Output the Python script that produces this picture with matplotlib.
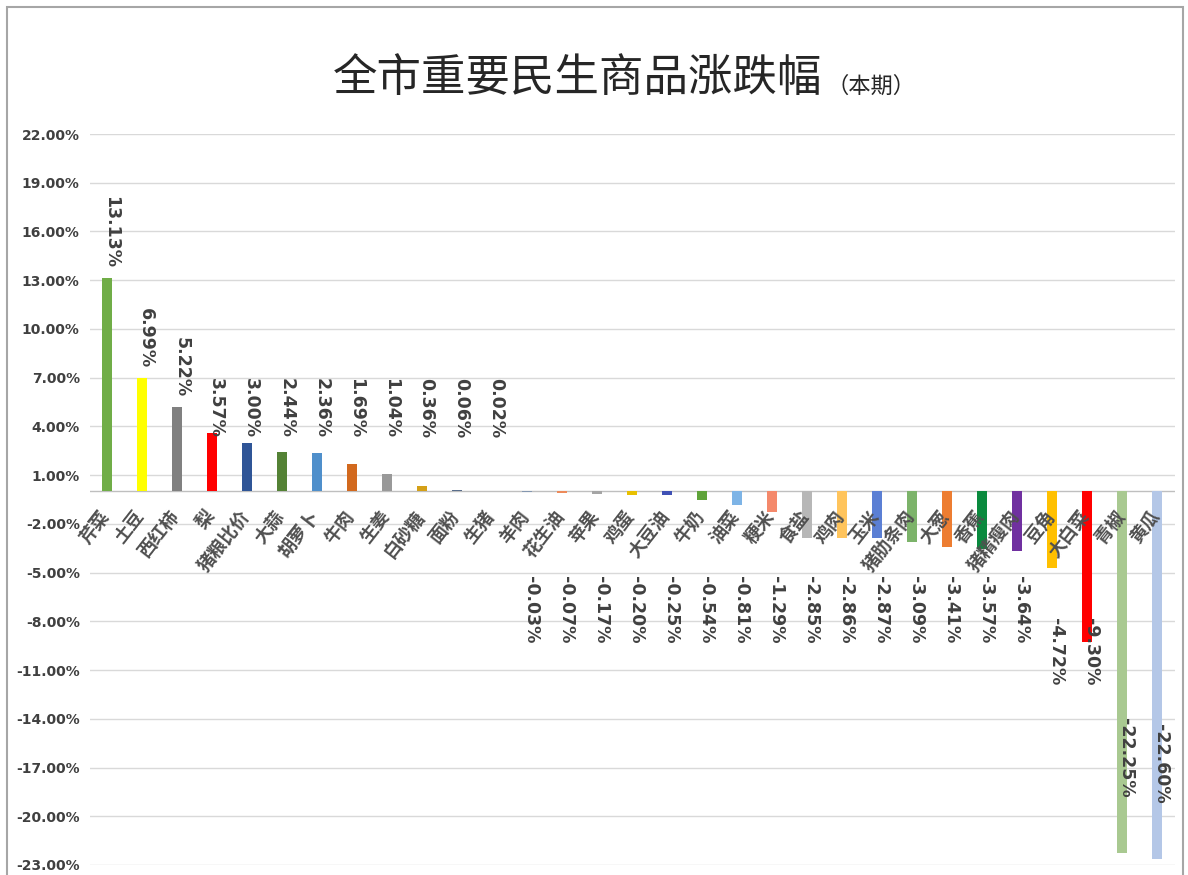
"""Recreate the '全市重要民生商品涨跌幅（本期）' bar chart."""
import matplotlib
matplotlib.use("Agg")
import matplotlib.pyplot as plt
from matplotlib.patches import Rectangle
import numpy as np

plt.rcParams["font.family"] = ["Noto Sans CJK SC", "DejaVu Sans"]

items = ["芹菜", "土豆", "西红柿", "梨", "猪粮比价", "大蒜", "胡萝卜", "牛肉",
         "生姜", "白砂糖", "面粉", "生猪", "羊肉", "花生油", "苹果", "鸡蛋",
         "大豆油", "牛奶", "油菜", "粳米", "食盐", "鸡肉", "玉米", "猪肋条肉",
         "大葱", "香蕉", "猪精瘦肉", "豆角", "大白菜", "青椒", "黄瓜"]
change = [13.13, 6.99, 5.22, 3.57, 3.00, 2.44, 2.36, 1.69, 1.04, 0.36, 0.06,
          0.02, -0.03, -0.07, -0.17, -0.20, -0.25, -0.54, -0.81, -1.29, -2.85,
          -2.86, -2.87, -3.09, -3.41, -3.57, -3.64, -4.72, -9.30, -22.25, -22.60]
colors = ["#70AD47", "#FFFF00", "#808080", "#FF0000", "#2F5597", "#548235",
          "#4F8FCB", "#D2691E", "#999999", "#D4A017", "#5A6E8C", "#9E9E86",
          "#8497B0", "#ED8A5A", "#A5A5A5", "#E8C000", "#3F51B5", "#5FA33A",
          "#7EB4E6", "#F4896B", "#B7B7B7", "#FFC45C", "#5B7FD4", "#7CB36A",
          "#ED7D31", "#0A8A3E", "#7030A0", "#FFC000", "#FF0000", "#A9C991",
          "#B4C7E7"]
yticks = np.arange(22, -24, -3)

TXT = "#404040"

fig = plt.figure(figsize=(11.88, 8.75), dpi=100)
ax = fig.add_axes([89.5 / 1188, 1 - 865 / 875, 1085 / 1188, 731 / 875])

x = np.arange(len(items))
ax.bar(x, change, width=0.31, color=colors, zorder=4)
ax.set_xlim(-0.5, len(items) - 0.5)
ax.set_ylim(-23, 22)
ax.set_yticks(yticks)
ax.set_yticklabels([f"{v:.2f}%" for v in yticks], fontsize=10,
                   fontweight="bold", color=TXT, family="DejaVu Sans")
ax.tick_params(axis="y", length=0, pad=7)
ax.set_xticks([])
ax.grid(axis="y", color="#D9D9D9", lw=1, zorder=0)
ax.axhline(0, color="#BFBFBF", lw=1, zorder=3)
for s in ax.spines.values():
    s.set_visible(False)


def label_y(v):
    # excel pushes the small labels away from the axis
    if v >= 4:
        return v + 0.6, "bottom"
    if v >= 0:
        return 7.0, "top"
    if v > -4:
        return -5.2, "top"
    if v > -10:
        return -7.8, "top"
    return v + 8.3, "top"


for xi, v in zip(x, change):
    y, va = label_y(v)
    ax.text(xi + 0.12, y, f"{v:.2f}%", rotation=270, ha="center", va=va,
            fontsize=12.5, fontweight="bold", color=TXT,
            family="DejaVu Sans", zorder=5)

for xi, name in zip(x, items):
    ax.text(xi - 0.25, -0.95, name, rotation=52, rotation_mode="anchor",
            ha="right", va="top", fontsize=13, fontweight="bold",
            color="#505050", zorder=6)

fig.text(822 / 1188, 1 - 78 / 875, "全市重要民生商品涨跌幅", ha="right",
         va="center", fontsize=32, color="#262626")
fig.text(826 / 1188, 1 - 86 / 875, "（本期）", ha="left", va="center",
         fontsize=16, color="#262626")

fig.add_artist(Rectangle((7 / 1188, -0.05), 1176 / 1188, 1.05 - 7 / 875,
                         transform=fig.transFigure, fill=False,
                         edgecolor="#A6A6A6", lw=1.5))

fig.savefig("out.png", dpi=100)
